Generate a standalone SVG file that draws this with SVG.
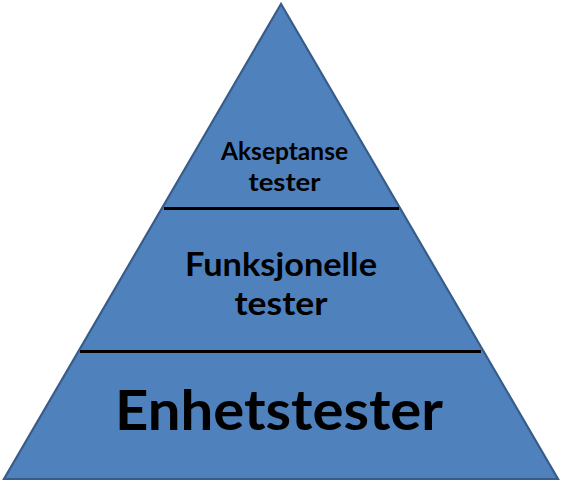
<svg xmlns="http://www.w3.org/2000/svg" width="562" height="485" viewBox="0 0 562 485">
<style>
.lbl{font-family:Lato,"Open Sans","Liberation Sans",sans-serif;font-weight:bold;fill:#000;text-anchor:middle}
.div{stroke:#000;stroke-width:3}
</style>
<rect width="562" height="485" fill="#fff"/>
<g id="pyramid">
<polygon points="281,4 4,479 558,479" fill="#4F81BD" stroke="#385D8A" stroke-width="2.2" stroke-linejoin="miter"/>
</g>
<g id="connectors">
<line class="div" x1="164" y1="208.5" x2="399" y2="208.5"/>
<line class="div" x1="80" y1="351.5" x2="481" y2="351.5"/>
</g>
<g id="akseptanse">
<text class="lbl" x="284.5" y="160" font-size="24" textLength="127" lengthAdjust="spacingAndGlyphs">Akseptanse</text>
<text class="lbl" x="284.5" y="191" font-size="24" textLength="72" lengthAdjust="spacingAndGlyphs">tester</text>
</g>
<g id="funksjonelle">
<text class="lbl" x="281" y="276" font-size="32" textLength="192" lengthAdjust="spacingAndGlyphs">Funksjonelle</text>
<text class="lbl" x="281" y="315" font-size="32" textLength="93" lengthAdjust="spacingAndGlyphs">tester</text>
</g>
<g id="enhetstester">
<text class="lbl" x="279" y="430" font-size="56" textLength="328" lengthAdjust="spacingAndGlyphs">Enhetstester</text>
</g>
</svg>
